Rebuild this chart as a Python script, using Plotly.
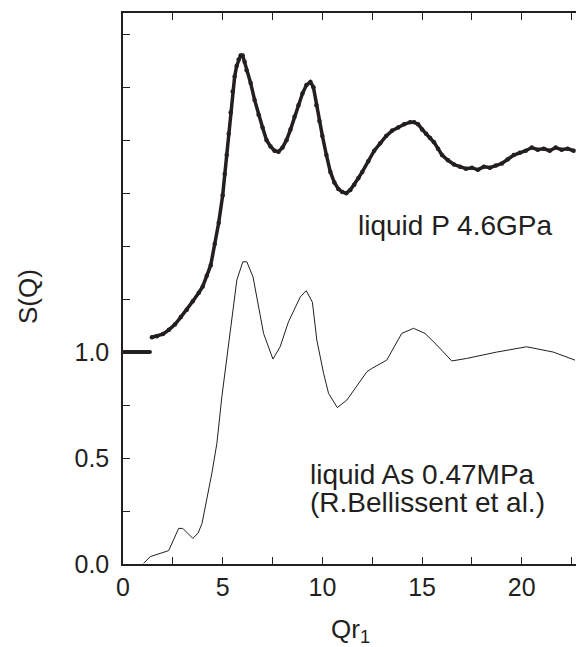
import plotly.graph_objects as go

# liquid P 4.6GPa (dots)
p_flat_q = [0.05, 0.15, 0.25, 0.35, 0.45, 0.55, 0.65, 0.75, 0.85, 0.95, 1.05, 1.15, 1.25, 1.35]
p_flat_s = [1.0, 1.0, 1.0, 1.0, 1.0, 1.0, 1.0, 1.0, 1.0, 1.0, 1.0, 1.0, 1.0, 1.0]

p_q = [1.45, 1.7, 2.0, 2.3, 2.6, 2.9, 3.2, 3.5, 3.8, 4.0, 4.2, 4.4, 4.6, 4.8, 5.0, 5.1, 5.2, 5.3,
       5.4, 5.5, 5.6, 5.7, 5.8, 5.9, 6.0, 6.1, 6.2, 6.4, 6.6, 6.8, 7.0, 7.2, 7.4, 7.6, 7.8, 8.0,
       8.2, 8.4, 8.6, 8.8, 9.0, 9.2, 9.4, 9.55, 9.7, 9.85, 10.0, 10.2, 10.4, 10.6, 10.8, 11.0,
       11.2, 11.4, 11.6, 11.8, 12.0, 12.3, 12.6, 12.9, 13.2, 13.5, 13.8, 14.1, 14.4, 14.6, 14.8,
       15.0, 15.2, 15.4, 15.6, 15.8, 16.0, 16.3, 16.6, 16.9, 17.2, 17.5, 17.8, 18.1, 18.4, 18.7,
       19.0, 19.3, 19.6, 19.9, 20.2, 20.5, 20.8, 21.1, 21.4, 21.7, 22.0, 22.3, 22.6]
p_s = [1.07, 1.075, 1.085, 1.105, 1.13, 1.165, 1.2, 1.24, 1.28, 1.31, 1.36, 1.41, 1.51, 1.61, 1.74,
       1.84, 1.93, 2.03, 2.13, 2.23, 2.30, 2.35, 2.38, 2.40, 2.40, 2.37, 2.33, 2.27, 2.19, 2.12,
       2.06, 2.00, 1.97, 1.95, 1.945, 1.965, 2.0, 2.05, 2.11, 2.165, 2.22, 2.26, 2.275, 2.25,
       2.165, 2.09, 2.02, 1.93, 1.85, 1.80, 1.77, 1.755, 1.75, 1.765, 1.79, 1.82, 1.85, 1.9,
       1.95, 1.985, 2.02, 2.045, 2.06, 2.075, 2.085, 2.085, 2.075, 2.05, 2.03, 2.01, 1.99, 1.96,
       1.93, 1.905, 1.885, 1.875, 1.865, 1.87, 1.86, 1.875, 1.87, 1.88, 1.89, 1.91, 1.93, 1.94,
       1.95, 1.965, 1.955, 1.96, 1.95, 1.965, 1.955, 1.96, 1.95]

# liquid As 0.47MPa (thin line)
as_q = [1.03, 1.37, 2.29, 2.79, 3.0, 3.5, 3.76, 3.96, 4.46, 4.71, 4.96, 5.71, 6.01, 6.21, 6.52,
        7.05, 7.52, 7.88, 8.3, 8.89, 9.19, 9.5, 9.72, 10.06, 10.31, 10.75, 11.23, 12.23, 12.48,
        13.23, 13.98, 14.57, 15.15, 15.74, 16.49, 17.24, 18.74, 20.25, 21.58, 22.67]
as_s = [0.003, 0.035, 0.063, 0.168, 0.168, 0.121, 0.145, 0.19, 0.43, 0.57, 0.79, 1.34, 1.426,
        1.426, 1.355, 1.088, 0.967, 1.025, 1.143, 1.26, 1.29, 1.235, 1.057, 0.9, 0.805, 0.738,
        0.774, 0.907, 0.923, 0.962, 1.088, 1.112, 1.088, 1.033, 0.958, 0.97, 1.0, 1.025, 1.0,
        0.962]

x_major = [0, 5, 10, 15, 20]
x_labels = ["0", "5", "10", "15", "20"]
x_minor = [2.5, 7.5, 12.5, 17.5, 22.5]
y_major = [0, 0.5, 1.0]
y_labels = ["0.0", "0.5", "1.0"]
y_minor = [0.25, 0.75, 1.25, 1.5, 1.75, 2.0, 2.25, 2.5]

FONT = "Liberation Sans, Arial, sans-serif"
INK = "#231f20"

fig = go.Figure()
fig.add_trace(go.Scatter(x=p_flat_q, y=p_flat_s, mode="lines+markers",
                         line=dict(color=INK, width=3.5),
                         marker=dict(color=INK, size=4), showlegend=False))
fig.add_trace(go.Scatter(x=p_q, y=p_s, mode="lines+markers",
                         line=dict(color=INK, width=3.5),
                         marker=dict(color=INK, size=4.5), showlegend=False))
fig.add_trace(go.Scatter(x=as_q, y=as_s, mode="lines",
                         line=dict(color=INK, width=1), showlegend=False))

ann_font = dict(size=28, color=INK, family=FONT)
fig.add_annotation(x=11.69, y=1.597, text="liquid P 4.6GPa", showarrow=False,
                   xanchor="left", yanchor="middle", font=ann_font)
fig.add_annotation(x=9.3, y=0.42, text="liquid As 0.47MPa", showarrow=False,
                   xanchor="left", yanchor="middle", font=ann_font)
fig.add_annotation(x=9.3, y=0.292, text="(R.Bellissent et al.)", showarrow=False,
                   xanchor="left", yanchor="middle", font=ann_font)
# axis titles
fig.add_annotation(xref="paper", yref="paper", x=-0.2097, y=0.4846, text="S(Q)",
                   textangle=-90, showarrow=False, xanchor="center", yanchor="middle",
                   font=dict(size=26, color=INK, family=FONT))
fig.add_annotation(xref="paper", yref="paper", x=0.503, y=-0.12, text="Qr<sub>1</sub>",
                   showarrow=False, xanchor="center", yanchor="middle",
                   font=dict(size=26, color=INK, family=FONT))

fig.update_layout(
    width=576, height=647,
    margin=dict(l=123, r=0, t=13, b=83, autoexpand=False),
    paper_bgcolor="white", plot_bgcolor="white",
    font=dict(family=FONT, size=25, color=INK),
)
fig.update_xaxes(range=[0, 22.72], tickmode="array", tickvals=x_major, ticktext=x_labels,
                 ticks="inside", ticklen=7, tickwidth=1.2, tickcolor=INK,
                 minor=dict(tickmode="array", tickvals=x_minor, ticks="inside", ticklen=7,
                            tickwidth=1.2, tickcolor=INK),
                 showline=True, linecolor=INK, linewidth=1.5, mirror="ticks",
                 showgrid=False, zeroline=False, automargin=False)
fig.update_yaxes(range=[0, 2.6], tickmode="array", tickvals=y_major, ticktext=y_labels,
                 ticks="inside", ticklen=7, tickwidth=1.2, tickcolor=INK,
                 minor=dict(tickmode="array", tickvals=y_minor, ticks="inside", ticklen=7,
                            tickwidth=1.2, tickcolor=INK),
                 showline=True, linecolor=INK, linewidth=1.5, mirror=False,
                 ticklabelstandoff=7,
                 showgrid=False, zeroline=False, automargin=False)

fig.write_html("out.html", config={"displayModeBar": False},
               post_script="document.body.style.margin='0';document.body.style.padding='0';")
